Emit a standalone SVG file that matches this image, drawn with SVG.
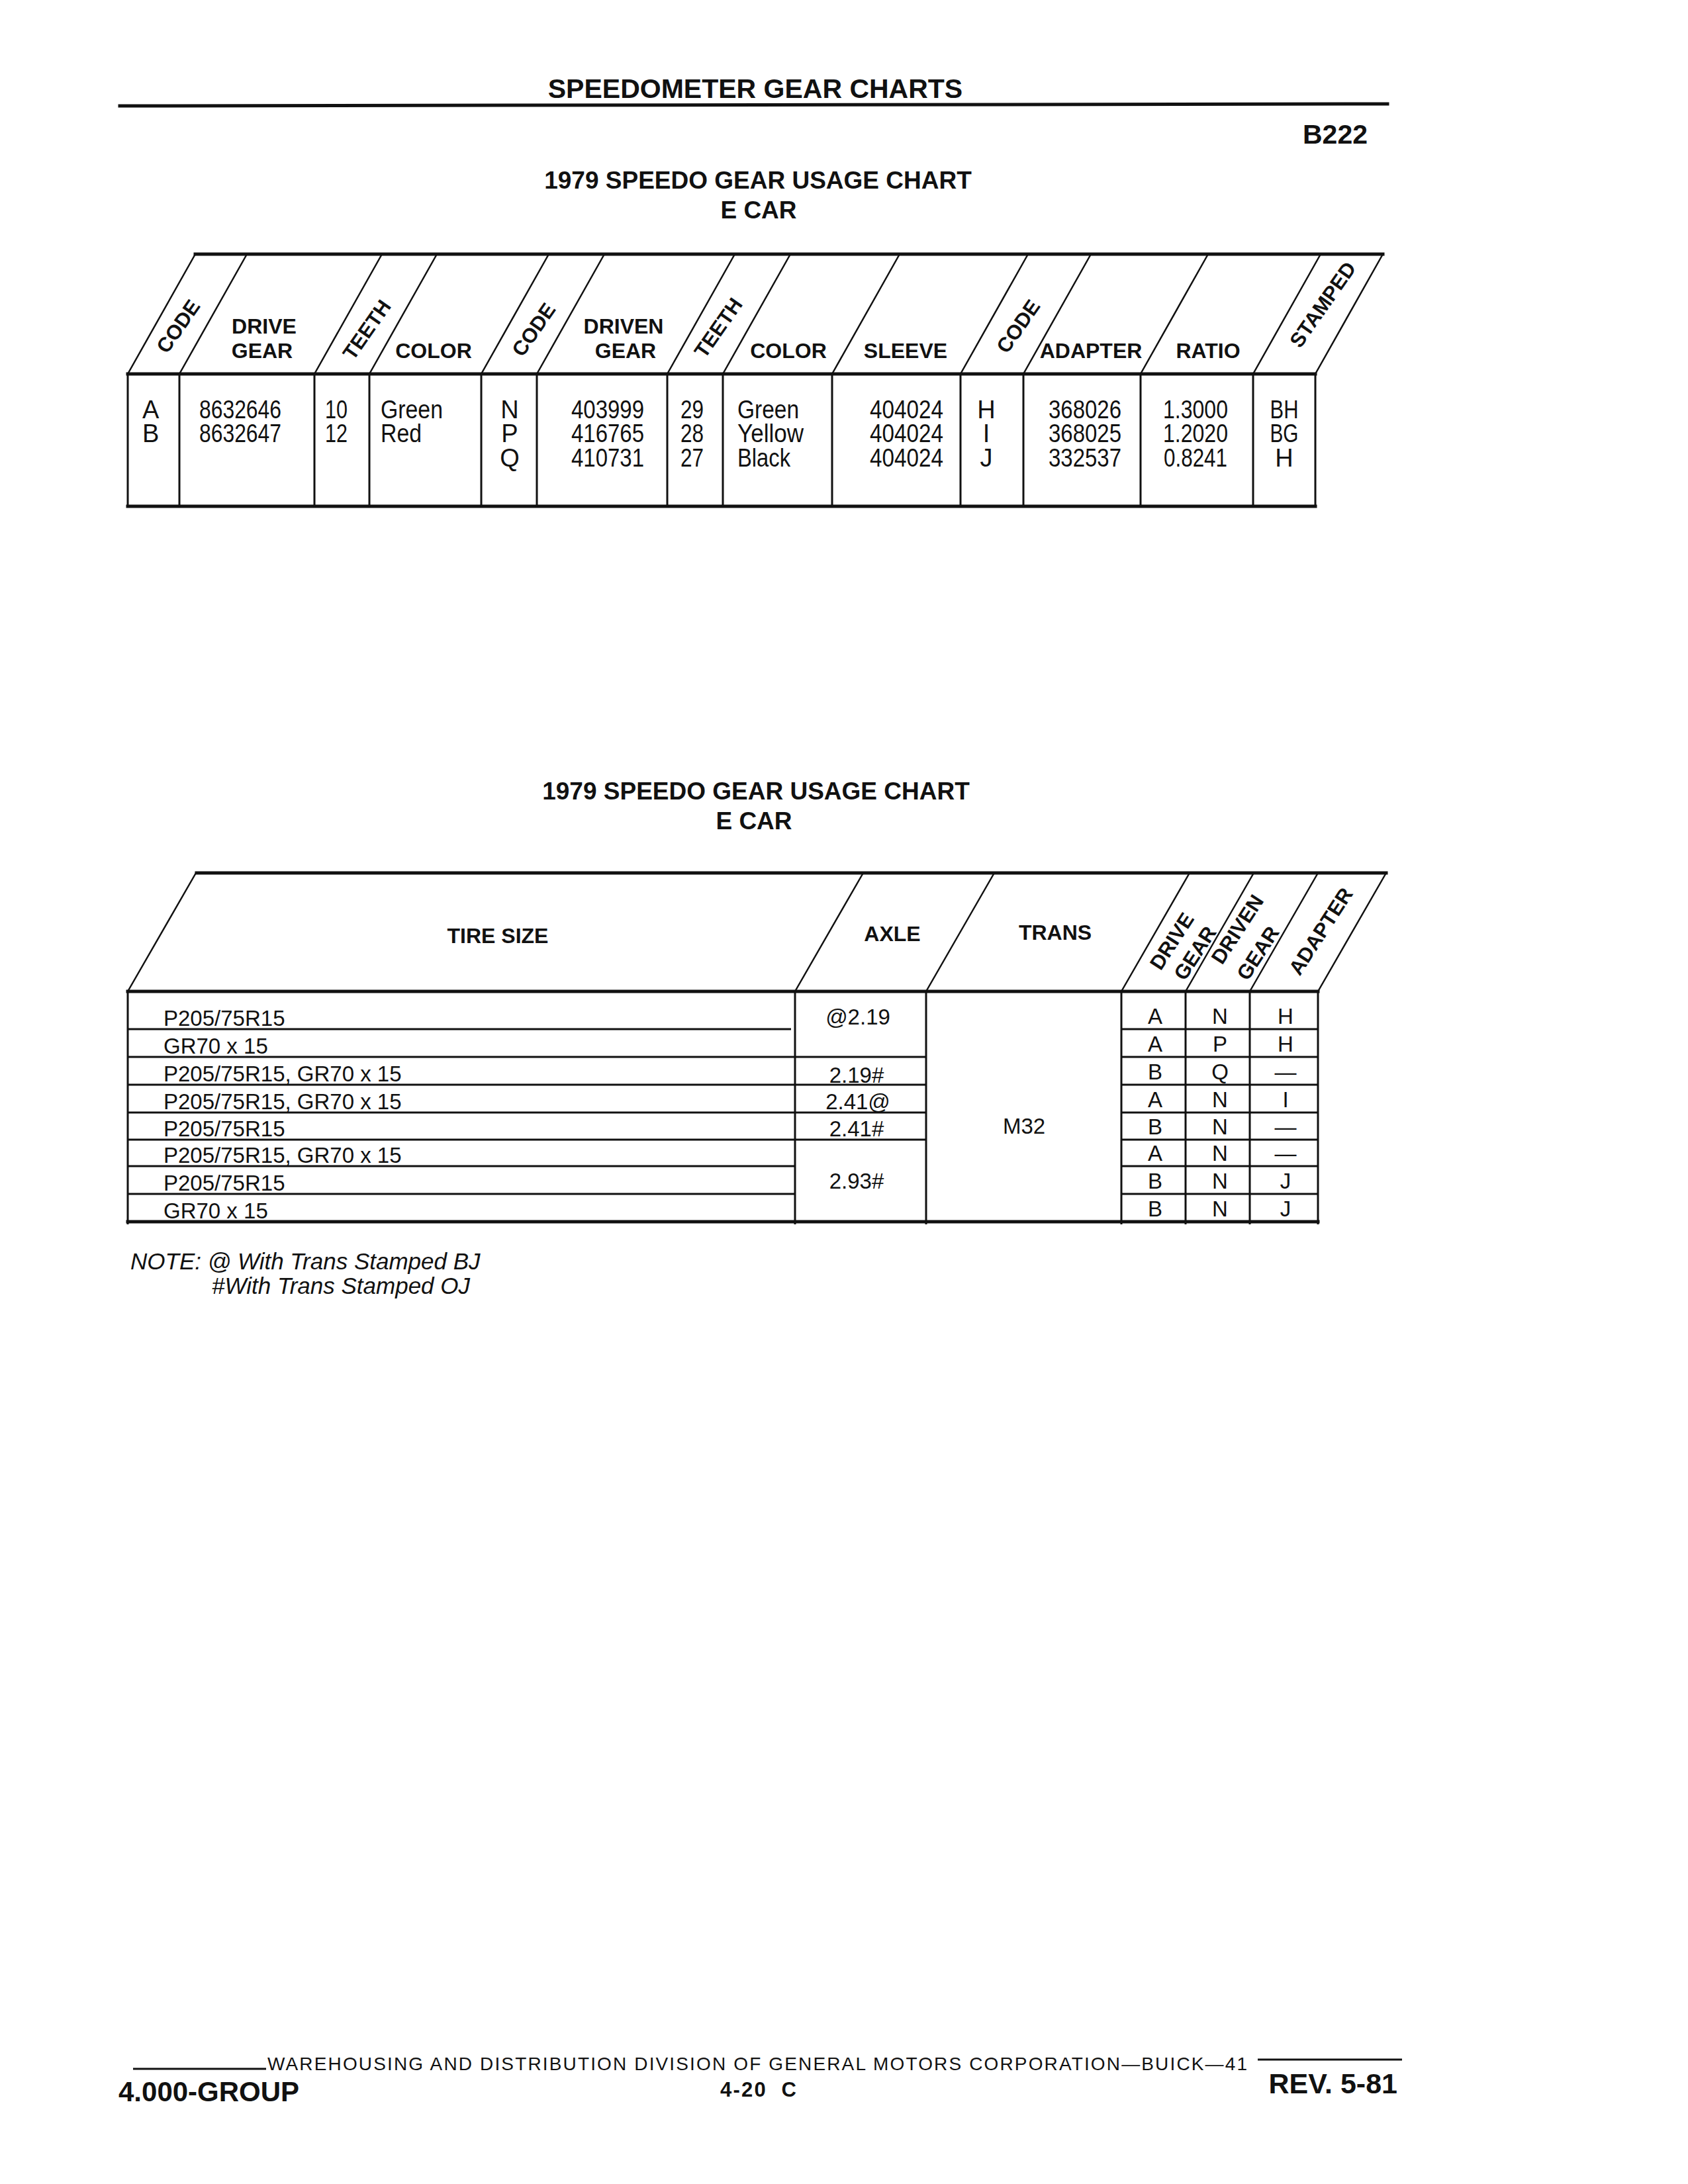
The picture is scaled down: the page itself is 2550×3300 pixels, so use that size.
<svg xmlns="http://www.w3.org/2000/svg" width="2550" height="3300" viewBox="0 0 2550 3300">
<style>
text{font-family:"Liberation Sans",Arial,"DejaVu Sans",sans-serif;fill:#111}
.b{font-weight:bold}
.h{font-size:32px;font-weight:bold;text-anchor:middle}
.rt{font-size:31px;font-weight:bold;text-anchor:middle}
.t1{font-size:38px}
.t2{font-size:33px}
.c{text-anchor:middle}
.e{text-anchor:end}
.thick{stroke:#111;stroke-width:5;fill:none;stroke-linecap:square}
.thin{stroke:#111;stroke-width:3;fill:none}
.diag{stroke:#111;stroke-width:2.5;fill:none}
</style>
<rect x="0" y="0" width="2550" height="3300" fill="#fff"/>

<g id="page-header">
  <text class="b c" x="1141" y="148" font-size="41">SPEEDOMETER GEAR CHARTS</text>
  <line class="thick" x1="181" y1="160" x2="2096" y2="157" stroke-width="6"/>
  <text class="b e" x="2066" y="217" font-size="41">B222</text>
</g>

<g id="chart1">
  <text class="b c" x="1145" y="285" font-size="37">1979 SPEEDO GEAR USAGE CHART</text>
  <text class="b c" x="1146" y="330" font-size="37">E CAR</text>
  <g id="chart1-lines">
    <path class="thick" d="M295 384H2089M193 565H1987M193 765H1987"/>
    <path class="diag" d="M193 565L295 384M271 565L373 384M475 565L577 384M558 565L660 384M727 565L829 384M811 565L913 384M1008 565L1110 384M1092 565L1194 384M1257 565L1359 384M1451 565L1553 384M1546 565L1648 384M1723 565L1825 384M1893 565L1995 384M1987 565L2089 384"/>
    <path class="thin" d="M193 565V767M271 565V767M475 565V767M558 565V767M727 565V767M811 565V767M1008 565V767M1092 565V767M1257 565V767M1451 565V767M1546 565V767M1723 565V767M1893 565V767M1987 565V767"/>
  </g>
  <g id="chart1-head">
    <text class="rt" transform="translate(269 493) rotate(-55)" y="11">CODE</text>
    <text class="h" x="399" y="504">DRIVE</text>
    <text class="h" x="396" y="541">GEAR</text>
    <text class="rt" transform="translate(554 498) rotate(-55)" y="11">TEETH</text>
    <text class="h" x="655" y="541">COLOR</text>
    <text class="rt" transform="translate(806 498) rotate(-55)" y="11">CODE</text>
    <text class="h" x="942" y="504">DRIVEN</text>
    <text class="h" x="945" y="541">GEAR</text>
    <text class="rt" transform="translate(1085 495) rotate(-55)" y="11">TEETH</text>
    <text class="h" x="1191" y="541">COLOR</text>
    <text class="h" x="1368" y="541">SLEEVE</text>
    <text class="rt" transform="translate(1538 493) rotate(-55)" y="11">CODE</text>
    <text class="h" x="1648" y="541">ADAPTER</text>
    <text class="h" x="1825" y="541">RATIO</text>
    <text class="rt" transform="translate(1998 460) rotate(-55)" y="11">STAMPED</text>
  </g>
  <g id="chart1-body" class="t1">
    <text x="215" y="632">A</text><text x="215" y="668">B</text>
    <text x="301" y="632" textLength="124" lengthAdjust="spacingAndGlyphs">8632646</text><text x="301" y="668" textLength="124" lengthAdjust="spacingAndGlyphs">8632647</text>
    <text x="491" y="632" textLength="34" lengthAdjust="spacingAndGlyphs">10</text><text x="491" y="668" textLength="34" lengthAdjust="spacingAndGlyphs">12</text>
    <text x="575" y="632" textLength="94" lengthAdjust="spacingAndGlyphs">Green</text><text x="575" y="668" textLength="62" lengthAdjust="spacingAndGlyphs">Red</text>
    <text class="c" x="770" y="632">N</text><text class="c" x="770" y="668">P</text><text class="c" x="770" y="705">Q</text>
    <text class="c" x="918" y="632" textLength="110" lengthAdjust="spacingAndGlyphs">403999</text><text class="c" x="918" y="668" textLength="110" lengthAdjust="spacingAndGlyphs">416765</text><text class="c" x="918" y="705" textLength="110" lengthAdjust="spacingAndGlyphs">410731</text>
    <text x="1028" y="632" textLength="35" lengthAdjust="spacingAndGlyphs">29</text><text x="1028" y="668" textLength="35" lengthAdjust="spacingAndGlyphs">28</text><text x="1028" y="705" textLength="35" lengthAdjust="spacingAndGlyphs">27</text>
    <text x="1114" y="632" textLength="93" lengthAdjust="spacingAndGlyphs">Green</text><text x="1114" y="668" textLength="100" lengthAdjust="spacingAndGlyphs">Yellow</text><text x="1114" y="705" textLength="80" lengthAdjust="spacingAndGlyphs">Black</text>
    <text class="e" x="1425" y="632" textLength="111" lengthAdjust="spacingAndGlyphs">404024</text><text class="e" x="1425" y="668" textLength="111" lengthAdjust="spacingAndGlyphs">404024</text><text class="e" x="1425" y="705" textLength="111" lengthAdjust="spacingAndGlyphs">404024</text>
    <text class="c" x="1490" y="632">H</text><text class="c" x="1490" y="668">I</text><text class="c" x="1490" y="705">J</text>
    <text class="c" x="1639" y="632" textLength="110" lengthAdjust="spacingAndGlyphs">368026</text><text class="c" x="1639" y="668" textLength="110" lengthAdjust="spacingAndGlyphs">368025</text><text class="c" x="1639" y="705" textLength="110" lengthAdjust="spacingAndGlyphs">332537</text>
    <text class="c" x="1806" y="632" textLength="98" lengthAdjust="spacingAndGlyphs">1.3000</text><text class="c" x="1806" y="668" textLength="98" lengthAdjust="spacingAndGlyphs">1.2020</text><text class="c" x="1806" y="705" textLength="96" lengthAdjust="spacingAndGlyphs">0.8241</text>
    <text class="c" x="1940" y="632" textLength="43" lengthAdjust="spacingAndGlyphs">BH</text><text class="c" x="1940" y="668" textLength="43" lengthAdjust="spacingAndGlyphs">BG</text><text class="c" x="1940" y="705">H</text>
  </g>
</g>

<g id="chart2">
  <text class="b c" x="1142" y="1208" font-size="37">1979 SPEEDO GEAR USAGE CHART</text>
  <text class="b c" x="1139" y="1253" font-size="37">E CAR</text>
  <g id="chart2-lines">
    <path class="thick" d="M297 1319H2094M193 1498H1991M193 1846H1991"/>
    <path class="diag" d="M193 1498L296 1319M1201 1498L1304 1319M1399 1498L1502 1319M1694 1498L1797 1319M1791 1498L1894 1319M1888 1498L1991 1319M1991 1498L2094 1319"/>
    <path class="thin" d="M193 1498V1850M1201 1498V1850M1399 1498V1850M1694 1498V1850M1791 1498V1850M1888 1498V1850M1991 1498V1850"/>
    <path class="thin" stroke-width="3.5" d="M193 1555H1195M193 1597H1399M193 1639H1399M193 1681H1399M193 1722H1399M193 1762H1201M193 1804H1201"/>
    <path class="thin" stroke-width="3.5" d="M1694 1555H1991M1694 1597H1991M1694 1639H1991M1694 1681H1991M1694 1722H1991M1694 1762H1991M1694 1804H1991"/>
  </g>
  <g id="chart2-head">
    <text class="h" x="752" y="1425">TIRE SIZE</text>
    <text class="h" x="1348" y="1422">AXLE</text>
    <text class="h" x="1594" y="1420">TRANS</text>
    <text class="rt" transform="translate(1770 1422) rotate(-57)" y="11">DRIVE</text>
    <text class="rt" transform="translate(1805 1440) rotate(-57)" y="11">GEAR</text>
    <text class="rt" transform="translate(1869 1404) rotate(-57)" y="11">DRIVEN</text>
    <text class="rt" transform="translate(1900 1440) rotate(-57)" y="11">GEAR</text>
    <text class="rt" transform="translate(1995 1407) rotate(-57)" y="11">ADAPTER</text>
  </g>
  <g id="chart2-tire" class="t2">
    <text x="247" y="1550">P205/75R15</text>
    <text x="247" y="1592">GR70 x 15</text>
    <text x="247" y="1634">P205/75R15, GR70 x 15</text>
    <text x="247" y="1676">P205/75R15, GR70 x 15</text>
    <text x="247" y="1717">P205/75R15</text>
    <text x="247" y="1757">P205/75R15, GR70 x 15</text>
    <text x="247" y="1799">P205/75R15</text>
    <text x="247" y="1841">GR70 x 15</text>
  </g>
  <g id="chart2-axle" class="t2 c">
    <text x="1296" y="1548">@2.19</text>
    <text x="1294" y="1636">2.19#</text>
    <text x="1296" y="1676">2.41@</text>
    <text x="1294" y="1717">2.41#</text>
    <text x="1294" y="1796">2.93#</text>
  </g>
  <g id="chart2-trans" class="t2 c">
    <text x="1547" y="1713">M32</text>
  </g>
  <g id="chart2-codes" class="t2 c">
    <text x="1745" y="1547">A</text><text x="1843" y="1547">N</text><text x="1942" y="1547">H</text>
    <text x="1745" y="1589">A</text><text x="1843" y="1589">P</text><text x="1942" y="1589">H</text>
    <text x="1745" y="1631">B</text><text x="1843" y="1631">Q</text><text x="1942" y="1631">—</text>
    <text x="1745" y="1673">A</text><text x="1843" y="1673">N</text><text x="1942" y="1673">I</text>
    <text x="1745" y="1714">B</text><text x="1843" y="1714">N</text><text x="1942" y="1714">—</text>
    <text x="1745" y="1754">A</text><text x="1843" y="1754">N</text><text x="1942" y="1754">—</text>
    <text x="1745" y="1796">B</text><text x="1843" y="1796">N</text><text x="1942" y="1796">J</text>
    <text x="1745" y="1838">B</text><text x="1843" y="1838">N</text><text x="1942" y="1838">J</text>
  </g>
  <g id="chart2-note">
    <text x="197" y="1918" font-size="35" font-style="italic">NOTE: @ With Trans Stamped BJ</text>
    <text x="320" y="1955" font-size="35" font-style="italic">#With Trans Stamped OJ</text>
  </g>
</g>

<g id="page-footer">
  <line class="thin" x1="201" y1="3126" x2="402" y2="3126"/>
  <text x="404" y="3128" font-size="28" textLength="1480" lengthAdjust="spacing">WAREHOUSING AND DISTRIBUTION  DIVISION OF GENERAL MOTORS CORPORATION—BUICK—41</text>
  <line class="thin" x1="1900" y1="3112" x2="2118" y2="3112"/>
  <text class="b" x="179" y="3175" font-size="42">4.000-GROUP</text>
  <text class="b" x="1088" y="3168" font-size="31" textLength="115" lengthAdjust="spacing" xml:space="preserve">4-20  C</text>
  <text class="b e" x="2111" y="3163" font-size="43">REV. 5-81</text>
</g>
</svg>
